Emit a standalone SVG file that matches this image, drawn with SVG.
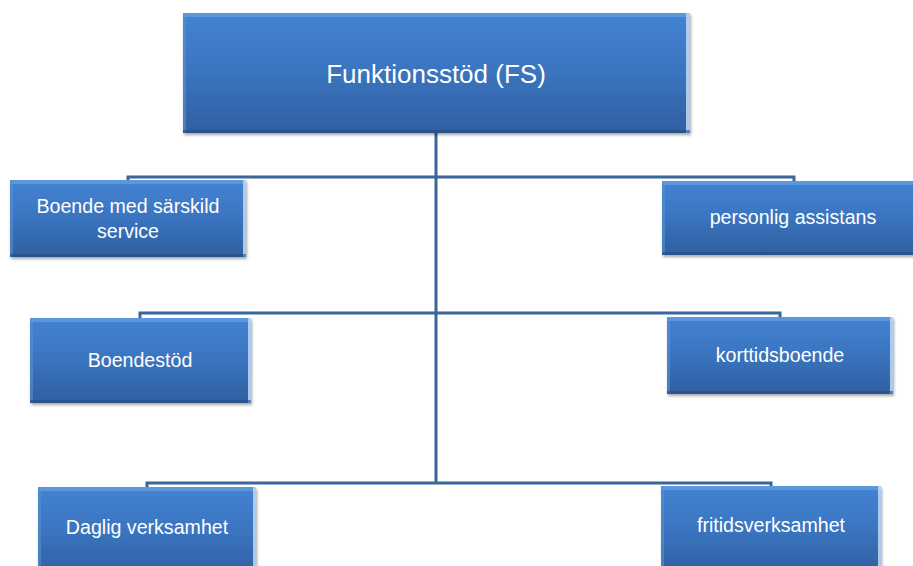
<svg xmlns="http://www.w3.org/2000/svg" width="913" height="566" viewBox="0 0 913 566">
<defs>
<linearGradient id="fill" x1="0" y1="0" x2="0" y2="1">
<stop offset="0" stop-color="#4383d2"/>
<stop offset="0.5" stop-color="#3a74bf"/>
<stop offset="1" stop-color="#2f5f9f"/>
</linearGradient>
<filter id="sh" x="-10%" y="-10%" width="120%" height="130%">
<feDropShadow dx="1" dy="2" stdDeviation="1.5" flood-color="#000" flood-opacity="0.35"/>
</filter>
</defs>
<style>
.box{fill:url(#fill);filter:url(#sh)}
.top{fill:#6a9fe0;opacity:.7}
.rt{fill:#b9d4f3;opacity:.9}
.lf{fill:#5a90d5;opacity:.6}
.bt{fill:#244d84;opacity:.6}
.t{fill:#fff;font-family:"Liberation Sans",Arial,sans-serif;text-anchor:middle;font-size:19.6px}
.c{fill:none;stroke:#3a6699;stroke-width:3;stroke-linejoin:miter}
</style>
<rect width="913" height="566" fill="#fff"/>
<g id="connectors">
<path class="c" d="M436,133 V483"/>
<path class="c" d="M436,177 H128 V181"/>
<path class="c" d="M436,177 H794 V181"/>
<path class="c" d="M436,313 H140 V318"/>
<path class="c" d="M436,313 H780 V317"/>
<path class="c" d="M436,483 H147 V487"/>
<path class="c" d="M436,483 H771 V486"/>
</g>
<g id="n0">
<rect class="box" x="183" y="13" width="507" height="120"/>
<rect class="top" x="183" y="13" width="507" height="4"/>
<rect class="lf" x="183" y="13" width="3" height="120"/>
<rect class="rt" x="686" y="13" width="4" height="120"/>
<rect class="bt" x="183" y="130" width="507" height="3"/>
<text class="t" x="436" y="83" style="font-size:26px">Funktionsstöd (FS)</text>
</g>
<g id="n1">
<rect class="box" x="10" y="180" width="236" height="77"/>
<rect class="top" x="10" y="180" width="236" height="4"/>
<rect class="lf" x="10" y="180" width="3" height="77"/>
<rect class="rt" x="243" y="180" width="3" height="77"/>
<rect class="bt" x="10" y="254" width="236" height="3"/>
<text class="t" x="128" y="213">Boende med särskild</text>
<text class="t" x="128" y="238">service</text>
</g>
<g id="n2">
<rect class="box" x="662" y="181" width="265" height="74"/>
<rect class="top" x="662" y="181" width="265" height="4"/>
<rect class="lf" x="662" y="181" width="3" height="74"/>
<rect class="bt" x="662" y="252" width="265" height="3"/>
<text class="t" x="793" y="224">personlig assistans</text>
</g>
<g id="n3">
<rect class="box" x="30" y="318" width="221" height="85"/>
<rect class="top" x="30" y="318" width="221" height="4"/>
<rect class="lf" x="30" y="318" width="3" height="85"/>
<rect class="rt" x="248" y="318" width="3" height="85"/>
<rect class="bt" x="30" y="400" width="221" height="3"/>
<text class="t" x="140" y="367">Boendestöd</text>
</g>
<g id="n4">
<rect class="box" x="667" y="317" width="226" height="77"/>
<rect class="top" x="667" y="317" width="226" height="4"/>
<rect class="lf" x="667" y="317" width="3" height="77"/>
<rect class="rt" x="890" y="317" width="3" height="77"/>
<rect class="bt" x="667" y="391" width="226" height="3"/>
<text class="t" x="780" y="362">korttidsboende</text>
</g>
<g id="n5">
<rect class="box" x="38" y="487" width="218" height="90"/>
<rect class="top" x="38" y="487" width="218" height="4"/>
<rect class="lf" x="38" y="487" width="3" height="90"/>
<rect class="rt" x="253" y="487" width="3" height="90"/>
<text class="t" x="147" y="534">Daglig verksamhet</text>
</g>
<g id="n6">
<rect class="box" x="661" y="486" width="220" height="90"/>
<rect class="top" x="661" y="486" width="220" height="4"/>
<rect class="lf" x="661" y="486" width="3" height="90"/>
<rect class="rt" x="878" y="486" width="3" height="90"/>
<text class="t" x="771" y="532">fritidsverksamhet</text>
</g>
</svg>
